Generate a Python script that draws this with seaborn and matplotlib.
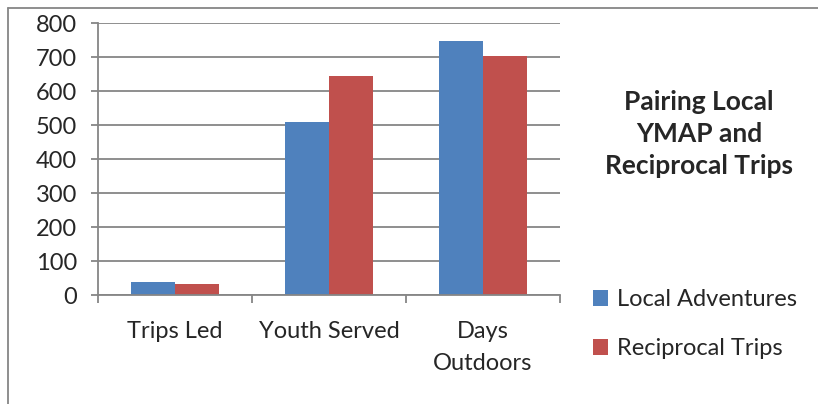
import matplotlib
matplotlib.use("Agg")
import matplotlib.pyplot as plt
from matplotlib.lines import Line2D
from matplotlib.patches import Patch
import seaborn as sns
import pandas as pd

categories = ["Trips Led", "Youth Served", "Days\nOutdoors"]
series_names = ["Local Adventures", "Reciprocal Trips"]
local_adventures = [38, 510, 747]
reciprocal_trips = [33, 643, 702]
y_ticks = [0, 100, 200, 300, 400, 500, 600, 700, 800]
title = "Pairing Local\nYMAP and\nReciprocal Trips"

colors = ["#4F81BD", "#C0504D"]

df = pd.DataFrame({
    "category": categories * 2,
    "series": [series_names[0]] * 3 + [series_names[1]] * 3,
    "value": local_adventures + reciprocal_trips,
})

sns.set_style("white")
plt.rcParams["font.family"] = ["Lato", "DejaVu Sans"]

W, H = 818, 404
fig = plt.figure(figsize=(W / 100, H / 100), dpi=100)
ax = fig.add_axes([98 / W, 1 - 295 / H, (560 - 98) / W, (295 - 23) / H])

sns.barplot(data=df, x="category", y="value", hue="series", order=categories,
            hue_order=series_names, palette=colors, width=0.571, gap=0,
            saturation=1, ax=ax, legend=False, edgecolor="none")

ax.set_xlim(-0.5, 2.5)
ax.set_ylim(0, 800)
ax.set_yticks(y_ticks)
ax.set_yticklabels([str(v) for v in y_ticks], fontsize=17)
ax.set_xlabel("")
ax.set_ylabel("")
ax.yaxis.grid(True, color="#868686", linewidth=1.3)
ax.set_axisbelow(True)
for s in ["top", "right"]:
    ax.spines[s].set_visible(False)
for s in ["left", "bottom"]:
    ax.spines[s].set_color("#868686")
    ax.spines[s].set_linewidth(1.3)

ax.tick_params(axis="y", which="major", length=5, width=1.3, color="#868686", pad=10, left=True)
ax.set_xticks(range(len(categories)))
ax.set_xticklabels(categories, fontsize=17, linespacing=1.6)
ax.tick_params(axis="x", which="major", length=0, pad=19)
ax.set_xticks([-0.5, 0.5, 1.5, 2.5], minor=True)
ax.tick_params(axis="x", which="minor", length=6, width=1.3, color="#868686", bottom=True)

fig.text(699 / W, 1 - 134 / H, title, ha="center", va="center", fontsize=19,
         fontweight="bold", linespacing=1.42)

handles = [Patch(facecolor=c, edgecolor="none") for c in colors]
fig.legend(handles, series_names, loc="upper left",
           bbox_to_anchor=(593 / W, 1 - 289 / H), frameon=False, fontsize=17,
           handlelength=0.65, handleheight=0.65, handletextpad=0.35,
           labelspacing=1.2, borderaxespad=0, borderpad=0)

fig.add_artist(Line2D([8 / W, 8 / W], [0, 1 - 8 / H], color="#868686", lw=1.3,
                      transform=fig.transFigure))
fig.add_artist(Line2D([8 / W, 1], [1 - 8 / H, 1 - 8 / H], color="#868686", lw=1.3,
                      transform=fig.transFigure))

fig.savefig("out.png", dpi=100)
